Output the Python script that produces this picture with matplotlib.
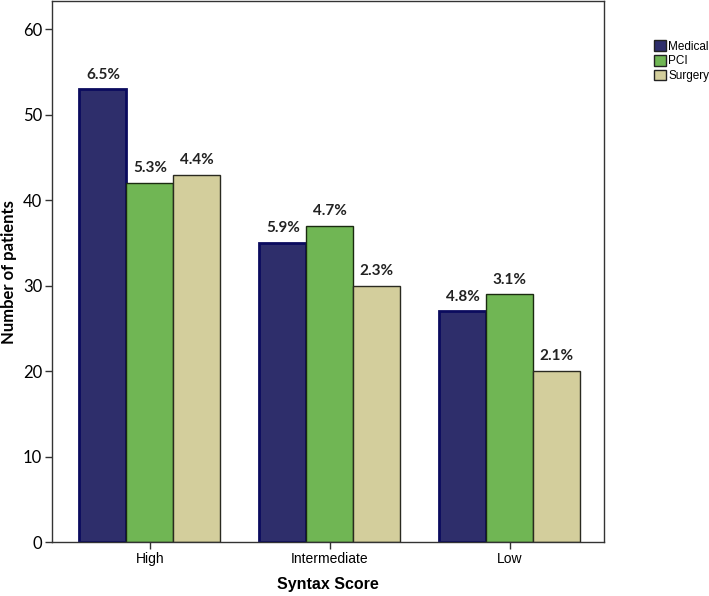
import matplotlib
matplotlib.use("Agg")
import matplotlib.pyplot as plt
import numpy as np
from matplotlib.patches import Patch

# data
groups = ["High", "Intermediate", "Low"]
series = ["Medical", "PCI", "Surgery"]
medical = [53, 35, 27]
pci = [42, 37, 29]
surgery = [43, 30, 20]
pct_medical = ["6.5%", "5.9%", "4.8%"]
pct_pci = ["5.3%", "4.7%", "3.1%"]
pct_surgery = ["4.4%", "2.3%", "2.1%"]

colors = ["#2E2E6B", "#70B654", "#D3CE9C"]
edges = ["#0B0B5E", "#1a2a10", "#2a2a20"]
edge_w = [2.0, 1.0, 1.0]

fig = plt.figure(figsize=(7.09, 5.96), dpi=100)
ax = fig.add_axes([0.0733, 0.0906, 0.7787, 0.9074])

x = np.arange(len(groups))
w = 0.261
all_vals = [medical, pci, surgery]
all_pct = [pct_medical, pct_pci, pct_surgery]
for i in range(3):
    pos = x + (i - 1) * w
    ax.bar(pos, all_vals[i], width=w, color=colors[i], edgecolor=edges[i],
           linewidth=edge_w[i], zorder=2)
    for p, v, t in zip(pos, all_vals[i], all_pct[i]):
        ax.text(p, v + 0.9, t, ha="center", va="bottom", fontsize=11,
                fontweight="bold", family="Lato", color="#222222")

ax.set_xlim(-0.544, 2.523)
ax.set_ylim(0, 63.3)
ax.set_yticks([0, 10, 20, 30, 40, 50, 60])
ax.set_xticks(x)
ax.set_xticklabels(groups, family="Liberation Sans", fontsize=10)
for lab in ax.get_yticklabels():
    lab.set_family("Lato")
    lab.set_fontsize(12)
ax.tick_params(axis="both", length=5, width=1, color="#333333", pad=2)
for s in ax.spines.values():
    s.set_color("#333333")
    s.set_linewidth(1)

ax.set_xlabel("Syntax Score", fontsize=11.5, fontweight="bold",
              family="Liberation Sans", labelpad=8)
ax.set_ylabel("Number of patients", fontsize=12, fontweight="bold",
              family="Lato", va="center")
ax.yaxis.set_label_coords(-0.078, 0.5)

handles = [Patch(facecolor=c, edgecolor="#222222", linewidth=1) for c in colors]
fig.legend(handles, series, loc="upper left", bbox_to_anchor=(0.916, 0.94),
           frameon=False, handlelength=1.0, handleheight=1.0,
           handletextpad=0.2, labelspacing=0.2, borderaxespad=0,
           prop={"family": "Liberation Sans", "size": 8.5})

fig.savefig("out.png", dpi=100)
